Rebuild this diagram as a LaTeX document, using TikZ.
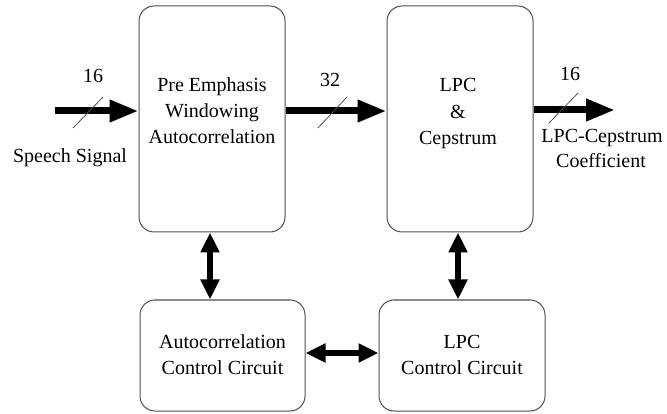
\documentclass[tikz,border=0pt]{standalone}
\usepackage{fontspec}
\setmainfont{Liberation Serif}
\usetikzlibrary{arrows.meta,calc}
\definecolor{boxline}{RGB}{80,80,80}
\tikzset{
  blk/.style={draw=boxline, line width=1pt, rounded corners=15pt, inner sep=0pt},
  txt/.style={anchor=base, inner sep=0pt, font=\fontsize{20}{24}\selectfont},
  busarrow/.style={line width=7pt, -{Triangle[length=29pt,width=21pt]}},
  dbl/.style={line width=5.5pt, {Triangle[length=20pt,width=18pt]}-{Triangle[length=20pt,width=18pt]}},
  slash/.style={draw=boxline, line width=0.8pt}
}
\begin{document}
\begin{tikzpicture}[x=1pt,y=-1pt]
\useasboundingbox (0,0) rectangle (667,414);
% boxes
\node[blk, minimum width=146pt, minimum height=226pt] (b1) at (212,119) {};
\node[blk, minimum width=146pt, minimum height=226pt] (b2) at (460,119) {};
\node[blk, minimum width=165pt, minimum height=111pt] (b3) at (222.5,355.5) {};
\node[blk, minimum width=166pt, minimum height=111pt] (b4) at (462,355.5) {};
% box texts
\node[txt] (t11) at (212,92) {Pre Emphasis};
\node[txt] (t12) at (212,118) {Windowing};
\node[txt] (t13) at (212,144) {Autocorrelation};
\node[txt] (t21) at (458,92) {LPC};
\node[txt] (t22) at (458,118.5) {\&};
\node[txt] (t23) at (458,145) {Cepstrum};
\node[txt] (t31) at (222.5,348) {Autocorrelation};
\node[txt] (t32) at (222.5,374) {Control Circuit};
\node[txt] (t41) at (462,348) {LPC};
\node[txt] (t42) at (462,374) {Control Circuit};
% input / output coordinates
\coordinate (in) at (55,111);
\coordinate (out) at (615,110);
% bus arrows
\draw[busarrow] (in) -- (in -| b1.west);
\draw[busarrow] ([yshift=8pt]b1.east) -- ([yshift=8pt]b2.west);
\draw[busarrow] ([yshift=9pt]b2.east) -- (out);
% slashes
\draw[slash] (73,128) -- (103,97);
\draw[slash] (318,128) -- (347,97);
\draw[slash] (549,123) -- (578,93);
% labels
\node[txt] (l1) at (93,83) {16};
\node[txt] (l2) at (330,87) {32};
\node[txt] (l3) at (570,81) {16};
\node[txt] (sp) at (70,163) {Speech Signal};
\node[txt] (lc1) at (602,143) {LPC-Cepstrum};
\node[txt] (lc2) at (601,168) {Coefficient};
% double arrows
\draw[dbl] ([xshift=-2pt]b1.south) -- ([xshift=-2pt]b1.south |- b3.north);
\draw[dbl] ([xshift=-2pt]b2.south) -- ([xshift=-2pt]b2.south |- b4.north);
\draw[dbl] ([yshift=2.5pt]b3.east) -- ([yshift=2.5pt]b3.east -| b4.west);
\end{tikzpicture}
\end{document}
